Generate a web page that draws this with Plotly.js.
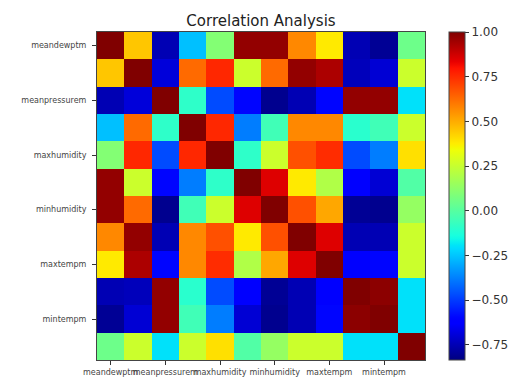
<!DOCTYPE html>
<html>
<head>
<meta charset="utf-8">
<script src="https://cdn.plot.ly/plotly-3.0.1.min.js"></script>
<style>
  html, body { margin: 0; padding: 0; background: #fff; }
  #chart { width: 524px; height: 380px; }
</style>
</head>
<body>
<div id="chart"></div>
<script>
// 12 variables; only every other one carries a tick label
const cellIndex = [0, 1, 2, 3, 4, 5, 6, 7, 8, 9, 10, 11];
const tickPositions = [0, 2, 4, 6, 8, 10];
const tickLabels = ["meandewptm", "meanpressurem", "maxhumidity", "minhumidity", "maxtempm", "mintempm"];

// correlation matrix rows (top to bottom)
const row0  = [1.00, 0.45, -0.75, -0.26, 0.10, 0.97, 0.97, 0.57, 0.38, -0.75, -0.80, 0.05];
const row1  = [0.45, 1.00, -0.69, 0.63, 0.76, 0.26, 0.63, 0.97, 0.93, -0.74, -0.70, 0.26];
const row2  = [-0.75, -0.69, 1.00, -0.09, -0.47, -0.60, -0.81, -0.75, -0.60, 0.97, 0.97, -0.20];
const row3  = [-0.26, 0.63, -0.09, 1.00, 0.76, -0.38, -0.05, 0.57, 0.57, -0.10, -0.05, 0.26];
const row4  = [0.10, 0.76, -0.47, 0.76, 1.00, -0.09, 0.26, 0.68, 0.75, -0.47, -0.38, 0.40];
const row5  = [0.97, 0.26, -0.60, -0.38, -0.09, 1.00, 0.85, 0.38, 0.20, -0.62, -0.70, -0.01];
const row6  = [0.97, 0.63, -0.81, -0.05, 0.26, 0.85, 1.00, 0.68, 0.51, -0.80, -0.81, 0.14];
const row7  = [0.57, 0.97, -0.75, 0.57, 0.68, 0.38, 0.68, 1.00, 0.85, -0.75, -0.75, 0.26];
const row8  = [0.38, 0.93, -0.60, 0.57, 0.75, 0.20, 0.51, 0.85, 1.00, -0.62, -0.60, 0.26];
const row9  = [-0.75, -0.74, 0.97, -0.10, -0.47, -0.62, -0.80, -0.75, -0.62, 1.00, 0.98, -0.20];
const row10 = [-0.80, -0.70, 0.97, -0.05, -0.38, -0.70, -0.81, -0.75, -0.60, 0.98, 1.00, -0.20];
const row11 = [0.05, 0.26, -0.20, 0.26, 0.40, -0.01, 0.14, 0.26, 0.26, -0.20, -0.20, 1.00];

const colorbarTicks = [-0.75, -0.5, -0.25, 0, 0.25, 0.5, 0.75, 1.0];
const zMin = -0.834, zMax = 1.0;

const matrix = [row0, row1, row2, row3, row4, row5, row6, row7, row8, row9, row10, row11];

// matplotlib "jet" colormap
function interp(points, t) {
  for (let i = 0; i < points.length - 1; i++) {
    const a = points[i], b = points[i + 1];
    if (t >= a[0] && t <= b[0]) {
      return a[1] + (b[1] - a[1]) * (t - a[0]) / (b[0] - a[0]);
    }
  }
  return points[points.length - 1][1];
}
const jr = [[0, 0], [0.35, 0], [0.66, 1], [0.89, 1], [1, 0.5]];
const jg = [[0, 0], [0.125, 0], [0.375, 1], [0.64, 1], [0.91, 0], [1, 0]];
const jb = [[0, 0.5], [0.11, 1], [0.34, 1], [0.65, 0], [1, 0]];
const jet = [];
for (let i = 0; i <= 100; i++) {
  const t = i / 100;
  const r = Math.round(255 * interp(jr, t));
  const g = Math.round(255 * interp(jg, t));
  const b = Math.round(255 * interp(jb, t));
  jet.push([t, `rgb(${r},${g},${b})`]);
}

const trace = {
  type: 'heatmap',
  x: cellIndex,
  y: cellIndex,
  z: matrix,
  zmin: zMin,
  zmax: zMax,
  colorscale: jet,
  colorbar: {
    x: 1.073, xanchor: 'left', xref: 'paper',
    y: 0.5, yanchor: 'middle',
    len: 1, lenmode: 'fraction',
    thickness: 16,
    xpad: 0, ypad: 0,
    outlinewidth: 1, outlinecolor: '#444',
    tickmode: 'array',
    tickvals: colorbarTicks,
    tickformat: '.2f',
    ticks: 'outside', ticklen: 4, tickcolor: '#333',
    tickfont: { family: 'DejaVu Sans', size: 12, color: '#333' }
  }
};

const layout = {
  width: 524, height: 380,
  margin: { l: 97, r: 99, t: 32, b: 20 },
  paper_bgcolor: '#fff',
  plot_bgcolor: '#fff',
  title: {
    text: 'Correlation Analysis',
    font: { family: 'DejaVu Sans', size: 15, color: '#222' },
    x: 0.5, xref: 'paper', xanchor: 'center',
    y: 1, yref: 'paper', yanchor: 'bottom', pad: { b: 6 }
  },
  xaxis: {
    range: [-0.5, 11.5],
    tickmode: 'array', tickvals: tickPositions, ticktext: tickLabels,
    ticks: 'outside', ticklen: 4, tickcolor: '#333', tickangle: 0,
    tickfont: { family: 'DejaVu Sans', size: 8, color: '#444' },
    showgrid: false, zeroline: false,
    showline: true, linecolor: '#444', linewidth: 1, mirror: true
  },
  yaxis: {
    range: [11.5, -0.5],
    tickmode: 'array', tickvals: tickPositions, ticktext: tickLabels,
    ticks: 'outside', ticklen: 4, tickcolor: '#333',
    ticklabelstandoff: 4,
    tickfont: { family: 'DejaVu Sans', size: 8, color: '#444' },
    showgrid: false, zeroline: false,
    showline: true, linecolor: '#444', linewidth: 1, mirror: true
  }
};

Plotly.newPlot('chart', [trace], layout, { displayModeBar: false, staticPlot: true });
</script>
</body>
</html>
